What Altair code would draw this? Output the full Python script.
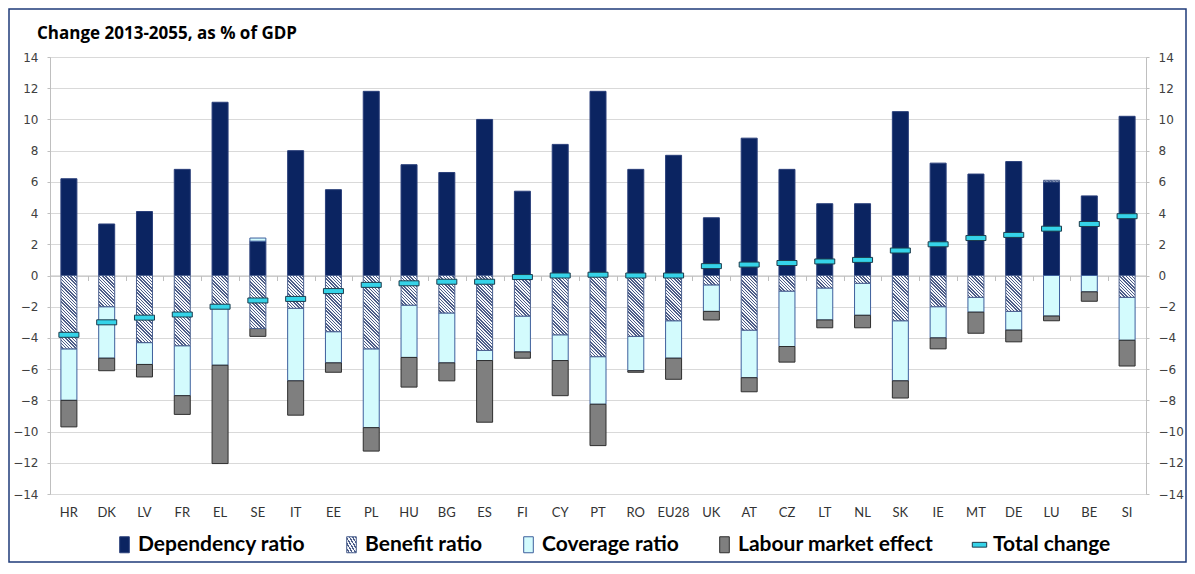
import altair as alt
import pandas as pd

countries = ["HR", "DK", "LV", "FR", "EL", "SE", "IT", "EE", "PL", "HU", "BG", "ES", "FI", "CY", "PT",
             "RO", "EU28", "UK", "AT", "CZ", "LT", "NL", "SK", "IE", "MT", "DE", "LU", "BE", "SI"]
dependency = [6.2, 3.3, 4.1, 6.8, 11.1, 2.2, 8.0, 5.5, 11.8, 7.1, 6.6, 10.0, 5.4, 8.4, 11.8,
              6.8, 7.7, 3.7, 8.8, 6.8, 4.6, 4.6, 10.5, 7.2, 6.5, 7.3, 6.0, 5.1, 10.2]
benefit = [-4.7, -2.0, -4.3, -4.5, -2.05, -3.4, -2.1, -3.6, -4.7, -1.9, -2.4, -4.8, -2.6, -3.8, -5.2,
           -3.9, -2.9, -0.6, -3.5, -1.0, -0.8, -0.5, -2.9, -2.0, -1.4, -2.3, 0.1, 0.0, -1.4]
coverage = [-3.3, -3.3, -1.4, -3.2, -3.7, 0.2, -4.65, -2.0, -5.05, -3.35, -3.2, -0.65, -2.3, -1.65, -3.05,
            -2.2, -2.4, -1.7, -3.05, -3.55, -2.05, -2.05, -3.85, -2.0, -0.95, -1.2, -2.6, -1.05, -2.75]
labour = [-1.7, -0.8, -0.8, -1.2, -6.3, -0.5, -2.2, -0.6, -1.5, -1.9, -1.15, -3.95, -0.4, -2.25, -2.65,
          -0.1, -1.35, -0.55, -0.9, -1.0, -0.5, -0.8, -1.1, -0.7, -1.35, -0.75, -0.3, -0.6, -1.65]
total = [-3.8, -3.0, -2.7, -2.5, -2.0, -1.6, -1.5, -1.0, -0.6, -0.5, -0.4, -0.4, -0.1, 0.0, 0.05,
         0.0, 0.0, 0.6, 0.7, 0.8, 0.9, 1.0, 1.6, 2.0, 2.4, 2.6, 3.0, 3.3, 3.8]

components = ["Dependency ratio", "Benefit ratio", "Coverage ratio", "Labour market effect", "Total change"]
y_ticks = list(range(-14, 15, 2))

# ---- stacked table (positive and negative parts stacked separately) ----
rows = []
series = [dependency, benefit, coverage, labour]
for i, c in enumerate(countries):
    pos, neg = 0.0, 0.0
    for name, vals in zip(components[:4], series):
        v = vals[i]
        if v == 0:
            continue
        if v > 0:
            y0, y1 = pos, pos + v
            pos = y1
        else:
            y0, y1 = neg, neg + v
            neg = y1
        rows.append({"country": c, "component": name, "value": v, "y0": y0, "y1": y1})
bars = pd.DataFrame(rows)
tot = pd.DataFrame({"country": countries, "total": total})

# ---- styling ----
LIGHT, DARK = "#f6f8fb", "#4d5d88"
BAR_W = 16


def stops(n, frac=0.45):
    out = []
    for k in range(n):
        a, b, e = k / n, (k + 1 - frac) / n, (k + 1) / n
        out += [f"{{offset:{a:.5f},color:'{LIGHT}'}}", f"{{offset:{b:.5f},color:'{LIGHT}'}}",
                f"{{offset:{b:.5f},color:'{DARK}'}}", f"{{offset:{e:.5f},color:'{DARK}'}}"]
    return "[" + ",".join(out) + "]"


N_STRIPES, PERIOD = 40, 3.2
L = N_STRIPES * PERIOD
r = f"(abs(scale('y', datum.y1) - scale('y', datum.y0)) / {BAR_W})"
a = f"({L} / ({BAR_W} * (1 + {r} * {r})))"
bar_hatch = f"{{gradient:'linear', x1:0, y1:1, x2:{a}, y2:1 - {a} * {r}, stops:{stops(N_STRIPES)}}}"
legend_hatch = f"{{gradient:'linear', x1:0, y1:1, x2:1, y2:0, stops:{stops(6)}}}"

fill_range = ["#0b2461", alt.ExprRef(legend_hatch), "#d3fbfd", "#7f7f7f", "#35d3e8"]
stroke_range = ["#2a3f7a", "#4a5f8e", "#3d5f9c", "#2e2e2e", "#1c3b4c"]
shape_range = ["M-0.6,-1H0.6V1H-0.6Z", "M-0.6,-1H0.6V1H-0.6Z", "M-0.6,-1H0.6V1H-0.6Z",
               "M-0.6,-1H0.6V1H-0.6Z", "M-0.9,-0.3H0.9V0.3H-0.9Z"]

x_scale = alt.Scale(paddingInner=0, paddingOuter=0)
y_scale = alt.Scale(domain=[-14, 14], nice=False, zero=False)

legend = alt.Legend(title=None, orient="none", legendX=64, legendY=477, direction="horizontal",
                    labelFont="Lato", labelFontSize=21, labelFontWeight="bold", labelColor="#000000",
                    symbolSize=256, symbolStrokeColor="#1a1a1a", symbolStrokeWidth=1,
                    columnPadding=35, labelOffset=3, padding=0, labelLimit=300)

axis_y_common = dict(values=y_ticks, labelFont="DejaVu Sans", labelFontSize=12, labelColor="#404040",
                     tickSize=3, tickColor="#bfbfbf", domainColor="#bfbfbf", labelPadding=9, title=None)

base_bars = alt.Chart(bars)

layer_solid = base_bars.transform_filter(alt.datum.component != "Benefit ratio").mark_bar(
    size=BAR_W, strokeWidth=1
).encode(
    x=alt.X("country:N", sort=countries, scale=x_scale,
            axis=alt.Axis(orient="bottom", title=None, ticks=False, domain=False, labelAngle=0,
                          labelFont="Lato", labelFontSize=13, labelColor="#333333", labelPadding=12)),
    y=alt.Y("y0:Q", scale=y_scale,
            axis=alt.Axis(orient="left", grid=True, gridColor="#d9d9d9", **axis_y_common)),
    y2="y1:Q",
    color=alt.Color("component:N", scale=alt.Scale(domain=components, range=fill_range), legend=legend),
    stroke=alt.Stroke("component:N", scale=alt.Scale(domain=components, range=stroke_range), legend=None),
)

layer_hatch = base_bars.transform_filter(alt.datum.component == "Benefit ratio").mark_bar(
    size=BAR_W, fill=alt.ExprRef(bar_hatch), stroke="#4a5f8e", strokeWidth=1
).encode(
    x=alt.X("country:N", sort=countries, scale=x_scale, axis=None),
    y=alt.Y("y0:Q", scale=y_scale, axis=None),
    y2="y1:Q",
)

layer_legend = base_bars.transform_filter("false").mark_point(filled=True, opacity=1).encode(
    color=alt.Color("component:N", scale=alt.Scale(domain=components, range=fill_range), legend=legend),
    shape=alt.Shape("component:N", scale=alt.Scale(domain=components, range=shape_range), legend=legend),
)

layer_total = alt.Chart(tot).mark_tick(
    size=20, thickness=5, color="#35d3e8", fill="#35d3e8", stroke="#1c3b4c", strokeWidth=1, opacity=1
).encode(
    x=alt.X("country:N", sort=countries, scale=x_scale,
            axis=alt.Axis(orient="bottom", offset=-218.5, labels=False, ticks=True, tickBand="extent",
                          tickSize=5, tickColor="#bfbfbf", domain=True, domainColor="#bfbfbf",
                          grid=False, title=None)),
    y=alt.Y("total:Q", scale=y_scale, axis=alt.Axis(orient="right", grid=False, **axis_y_common)),
)

# outer frame of the figure (decoration only)
frame = alt.Chart(pd.DataFrame({"frame": [0]})).mark_rect(
    fill=None, stroke="#1f3b7a", strokeWidth=1.5
).encode(
    x=alt.value(-41), x2=alt.value(1096 + 40), y=alt.value(-48), y2=alt.value(437 + 68)
)

chart = alt.layer(frame, layer_solid, layer_hatch, layer_legend, layer_total).resolve_axis(
    x="independent", y="independent"
).properties(
    width=1096, height=437,
    title=alt.TitleParams("Change 2013-2055, as % of GDP", anchor="start", frame="group", dx=-13,
                          offset=-35, font="Open Sans", fontSize=17, fontWeight="bold", color="#000000"),
    autosize=alt.AutoSizeParams(type="none"),
    padding={"left": 42, "top": 49, "right": 41, "bottom": 70},
).configure_view(strokeWidth=0).configure(background="#ffffff")

chart.save("out.html", embed_options={"renderer": "svg", "actions": False})
